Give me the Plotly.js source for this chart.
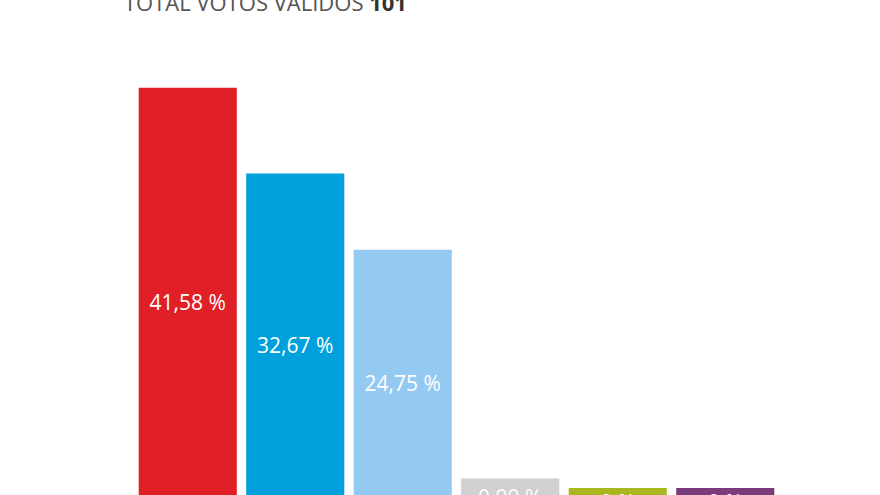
<!DOCTYPE html>
<html>
<head>
<meta charset="utf-8">
<script src="https://cdn.plot.ly/plotly-3.0.1.min.js"></script>
<style>
  html, body { margin: 0; padding: 0; background: #ffffff; overflow: hidden; }
  #chart { width: 880px; height: 560px; }
</style>
</head>
<body>
<div id="chart"></div>
<script>
// Data
const parties = ["P1", "P2", "P3", "P4", "P5", "P6"];
const percentages = [41.58, 32.67, 24.75, 0.99, 0, 0];
const labels = ["41,58 %", "32,67 %", "24,75 %", "0,99 %", "0 %", "0 %"];
const totalValidVotes = 101;

// Styling
const barColors = ["#e01f26", "#00a0dc", "#94c9f2", "#d0d0d0", "#a9b820", "#7b3a7c"];
const MIN_BAR = 2.9; // minimum visible bar height (in % units) so zero values still show a tab

const barHeights = percentages.map(v => v + MIN_BAR);

const trace = {
  type: "bar",
  x: parties,
  y: barHeights,
  text: labels,
  textposition: "inside",
  insidetextanchor: "middle",
  constraintext: "none",
  textangle: 0,
  insidetextfont: { family: "Open Sans, sans-serif", size: 21, color: "#ffffff" },
  marker: { color: barColors, line: { width: 0 } },
  hoverinfo: "none"
};

const layout = {
  width: 880,
  height: 560,
  margin: { l: 134, r: 101, t: 40, b: 44 },
  paper_bgcolor: "#ffffff",
  plot_bgcolor: "#ffffff",
  showlegend: false,
  bargap: 0.0875,
  title: {
    text: "TOTAL VOTOS VÁLIDOS <b style='color:#333333'>" + totalValidVotes + "</b>",
    x: 124 / 880,
    xanchor: "left",
    y: 1 - 3 / 560,
    yanchor: "middle",
    font: { family: "Open Sans, sans-serif", size: 22, color: "#555555" }
  },
  xaxis: { visible: false, fixedrange: true },
  yaxis: { visible: false, range: [0, 476 / 9.63], fixedrange: true }
};

Plotly.newPlot("chart", [trace], layout, { displayModeBar: false, staticPlot: true });
</script>
</body>
</html>
